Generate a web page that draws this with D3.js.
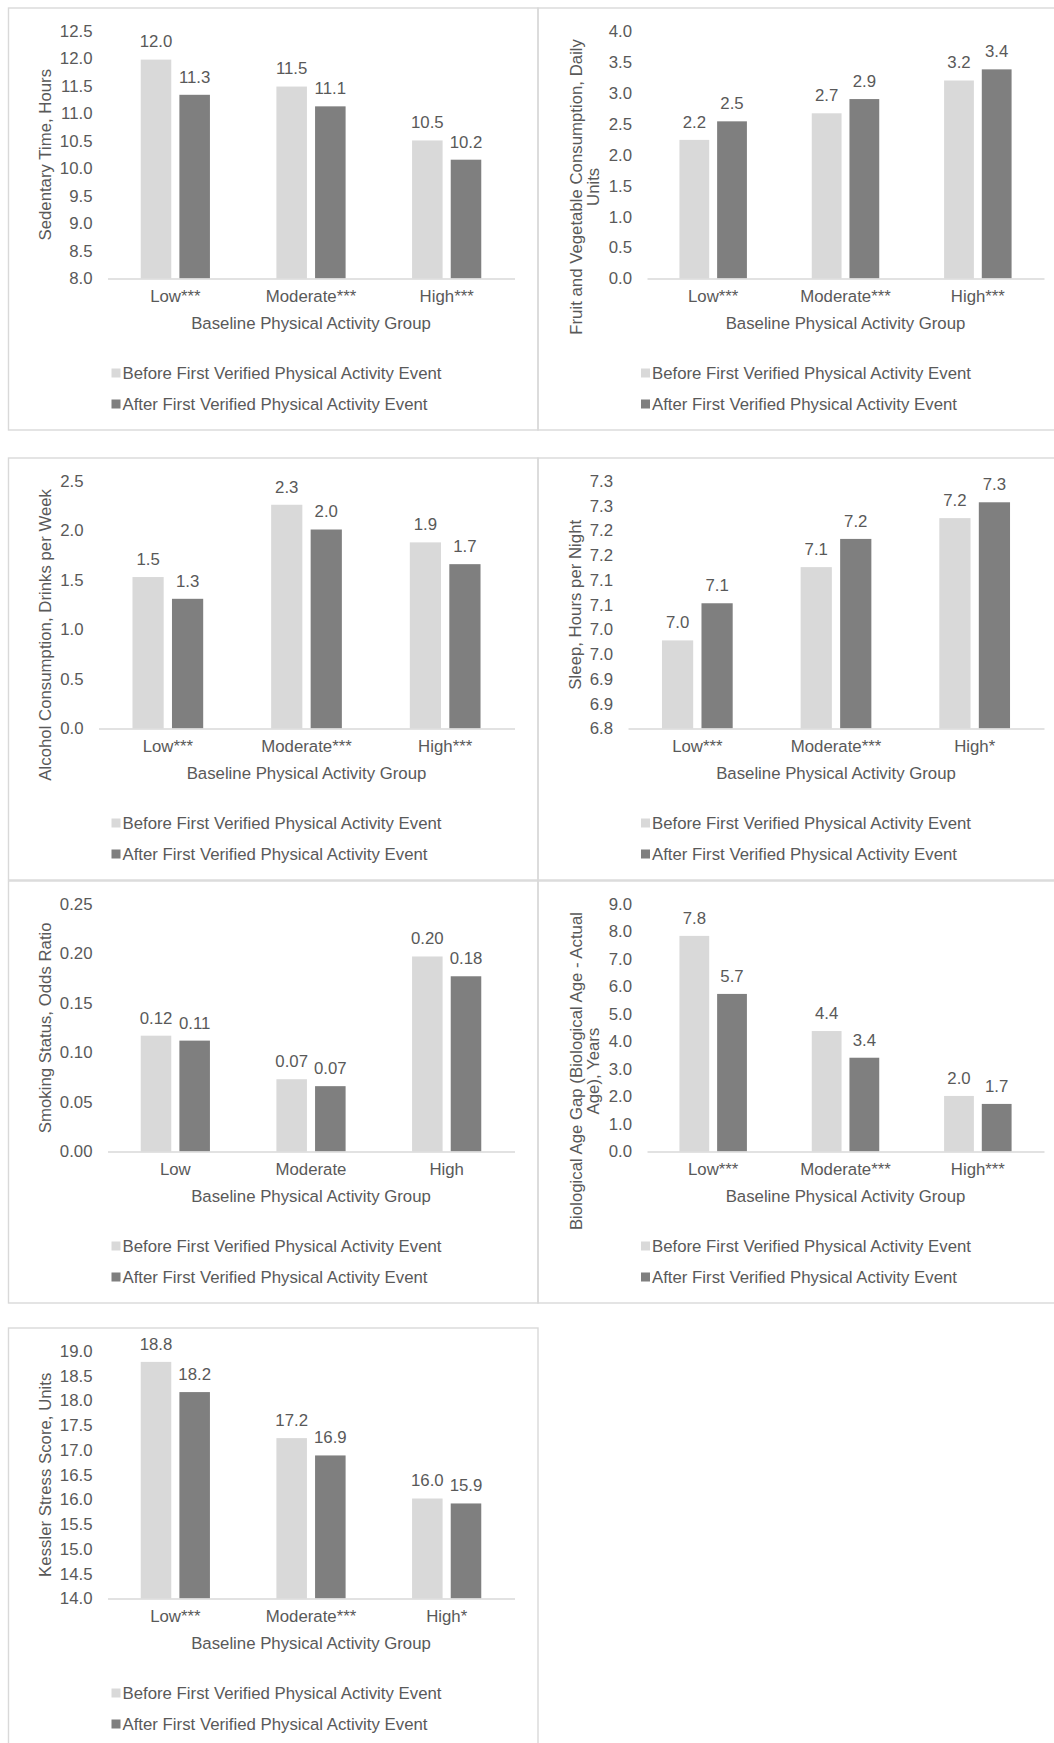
<!DOCTYPE html>
<html>
<head>
<meta charset="utf-8">
<script src="https://cdn.jsdelivr.net/npm/d3@7"></script>
<style>
  body { margin: 0; background: #fff; }
  svg { display: block; }
</style>
</head>
<body>
<svg id="chart" width="1054" height="1743"></svg>
<script>
// Shared texts
const legendLabels = ["Before First Verified Physical Activity Event", "After First Verified Physical Activity Event"];
const xAxisTitle = "Baseline Physical Activity Group";

// Sedentary time
const sedentaryCats = ["Low***", "Moderate***", "High***"];
const sedentaryBefore = [11.98, 11.49, 10.51];
const sedentaryAfter = [11.34, 11.13, 10.16];
const sedentaryTicks = [8.0, 8.5, 9.0, 9.5, 10.0, 10.5, 11.0, 11.5, 12.0, 12.5];
const sedentaryTickLabels = ["8.0", "8.5", "9.0", "9.5", "10.0", "10.5", "11.0", "11.5", "12.0", "12.5"];

// Fruit and vegetable
const fruitCats = ["Low***", "Moderate***", "High***"];
const fruitBefore = [2.24, 2.67, 3.20];
const fruitAfter = [2.54, 2.90, 3.38];
const fruitTicks = [0.0, 0.5, 1.0, 1.5, 2.0, 2.5, 3.0, 3.5, 4.0];
const fruitTickLabels = ["0.0", "0.5", "1.0", "1.5", "2.0", "2.5", "3.0", "3.5", "4.0"];

// Alcohol
const alcoholCats = ["Low***", "Moderate***", "High***"];
const alcoholBefore = [1.53, 2.26, 1.88];
const alcoholAfter = [1.31, 2.01, 1.66];
const alcoholTicks = [0.0, 0.5, 1.0, 1.5, 2.0, 2.5];
const alcoholTickLabels = ["0.0", "0.5", "1.0", "1.5", "2.0", "2.5"];

// Sleep
const sleepCats = ["Low***", "Moderate***", "High*"];
const sleepBefore = [6.978, 7.126, 7.225];
const sleepAfter = [7.053, 7.183, 7.257];
const sleepTicks = [6.80, 6.85, 6.90, 6.95, 7.00, 7.05, 7.10, 7.15, 7.20, 7.25, 7.30];
const sleepTickLabels = ["6.8", "6.9", "6.9", "7.0", "7.0", "7.1", "7.1", "7.2", "7.2", "7.3", "7.3"];

// Smoking
const smokingCats = ["Low", "Moderate", "High"];
const smokingBefore = [0.117, 0.073, 0.197];
const smokingAfter = [0.112, 0.066, 0.177];
const smokingTicks = [0.00, 0.05, 0.10, 0.15, 0.20, 0.25];
const smokingTickLabels = ["0.00", "0.05", "0.10", "0.15", "0.20", "0.25"];

// Biological age gap
const bioAgeCats = ["Low***", "Moderate***", "High***"];
const bioAgeBefore = [7.84, 4.38, 2.02];
const bioAgeAfter = [5.73, 3.41, 1.73];
const bioAgeTicks = [0, 1, 2, 3, 4, 5, 6, 7, 8, 9];
const bioAgeTickLabels = ["0.0", "1.0", "2.0", "3.0", "4.0", "5.0", "6.0", "7.0", "8.0", "9.0"];

// Kessler stress
const kesslerCats = ["Low***", "Moderate***", "High*"];
const kesslerBefore = [18.78, 17.24, 16.02];
const kesslerAfter = [18.17, 16.89, 15.92];
const kesslerTicks = [14.0, 14.5, 15.0, 15.5, 16.0, 16.5, 17.0, 17.5, 18.0, 18.5, 19.0];
const kesslerTickLabels = ["14.0", "14.5", "15.0", "15.5", "16.0", "16.5", "17.0", "17.5", "18.0", "18.5", "19.0"];

const FONT = "'Liberation Sans', Arial, sans-serif";
const FONT_SIZE = 16.8;
const TEXT_COLOR = "#595959";
const LINE_COLOR = "#d9d9d9";
const BAR_COLORS = ["#d9d9d9", "#7f7f7f"];

// Panels: data + where they sit on the page
const panels = [
  {x: 8.5, y: 8, w: 529.5, h: 422, plotLeft: 99, cats: sedentaryCats, before: sedentaryBefore, after: sedentaryAfter,
   ticks: sedentaryTicks, tickLabels: sedentaryTickLabels, fmt: ".1f", title: ["Sedentary Time, Hours"]},
  {x: 538, y: 8, w: 530, h: 422, plotLeft: 109, cats: fruitCats, before: fruitBefore, after: fruitAfter,
   ticks: fruitTicks, tickLabels: fruitTickLabels, fmt: ".1f", title: ["Fruit and Vegetable Consumption, Daily", "Units"]},
  {x: 8.5, y: 458, w: 529.5, h: 422, plotLeft: 90, cats: alcoholCats, before: alcoholBefore, after: alcoholAfter,
   ticks: alcoholTicks, tickLabels: alcoholTickLabels, fmt: ".1f", title: ["Alcohol Consumption, Drinks per Week"]},
  {x: 538, y: 458, w: 530, h: 422, plotLeft: 90, cats: sleepCats, before: sleepBefore, after: sleepAfter,
   ticks: sleepTicks, tickLabels: sleepTickLabels, fmt: ".1f", title: ["Sleep, Hours per Night"]},
  {x: 8.5, y: 881, w: 529.5, h: 422, plotLeft: 99, cats: smokingCats, before: smokingBefore, after: smokingAfter,
   ticks: smokingTicks, tickLabels: smokingTickLabels, fmt: ".2f", title: ["Smoking Status, Odds Ratio"]},
  {x: 538, y: 881, w: 530, h: 422, plotLeft: 109, cats: bioAgeCats, before: bioAgeBefore, after: bioAgeAfter,
   ticks: bioAgeTicks, tickLabels: bioAgeTickLabels, fmt: ".1f", title: ["Biological Age Gap (Biological Age - Actual", "Age), Years"]},
  {x: 8.5, y: 1328, w: 529.5, h: 422, plotLeft: 99, cats: kesslerCats, before: kesslerBefore, after: kesslerAfter,
   ticks: kesslerTicks, tickLabels: kesslerTickLabels, fmt: ".1f", title: ["Kessler Stress Score, Units"]}
];

const PLOT_TOP = 23;
const PLOT_BOTTOM = 270.5;
const PLOT_RIGHT = 506;

function styleText(sel) {
  return sel.attr("font-family", FONT)
            .attr("font-size", FONT_SIZE)
            .attr("fill", TEXT_COLOR);
}

function drawPanel(svg, p) {

  let g = svg.append("g")
             .attr("transform", `translate(${p.x},${p.y})`);

  // Chart border
  g.append("rect")
   .attr("x", 0)
   .attr("y", 0)
   .attr("width", p.w)
   .attr("height", p.h)
   .style("fill", "none")
   .style("stroke", LINE_COLOR)
   .style("stroke-width", "1.4px");

  let y = d3.scaleLinear()
            .domain([p.ticks[0], p.ticks[p.ticks.length - 1]])
            .range([PLOT_BOTTOM, PLOT_TOP]);

  let x0 = d3.scaleBand()
             .domain(p.cats)
             .range([p.plotLeft, PLOT_RIGHT]);

  let bw = x0.bandwidth();
  let x1 = d3.scaleBand()
             .domain([0, 1])
             .range([0.245 * bw, 0.755 * bw])
             .paddingInner(0.21);

  let rows = p.cats.map((c, i) => ({cat: c, vals: [p.before[i], p.after[i]]}));
  let fmt = d3.format(p.fmt);

  let groups = g.selectAll(".grp")
                .data(rows)
                .join("g")
                .attr("class", "grp")
                .attr("transform", d => `translate(${x0(d.cat)},0)`);

  // Bars
  groups.selectAll("rect")
        .data(d => d.vals.map((v, k) => ({k: k, v: v})))
        .join("rect")
        .attr("x", d => x1(d.k))
        .attr("y", d => y(d.v))
        .attr("width", x1.bandwidth())
        .attr("height", d => PLOT_BOTTOM - y(d.v))
        .style("fill", d => BAR_COLORS[d.k]);

  // Data labels
  groups.selectAll("text")
        .data(d => d.vals.map((v, k) => ({k: k, v: v})))
        .join("text")
        .attr("x", d => x1(d.k) + x1.bandwidth() / 2)
        .attr("y", d => y(d.v) - 18)
        .attr("dy", "0.35em")
        .attr("text-anchor", "middle")
        .text(d => fmt(d.v))
        .call(styleText);

  // Value axis (labels only)
  let yAxis = g.append("g")
               .attr("transform", `translate(${p.plotLeft},0)`)
               .call(d3.axisLeft(y)
                       .tickValues(p.ticks)
                       .tickFormat((d, i) => p.tickLabels[i])
                       .tickSize(0)
                       .tickPadding(15));
  yAxis.select(".domain").remove();
  yAxis.selectAll("text").call(styleText);

  // Category axis
  let xAxis = g.append("g")
               .attr("transform", `translate(0,${PLOT_BOTTOM})`)
               .call(d3.axisBottom(x0)
                       .tickSize(0)
                       .tickSizeOuter(0)
                       .tickPadding(12));
  xAxis.select(".domain")
       .style("stroke", LINE_COLOR)
       .style("stroke-width", "1.4px");
  xAxis.selectAll("text").call(styleText);

  // Category axis title
  g.append("text")
   .attr("x", (p.plotLeft + PLOT_RIGHT) / 2)
   .attr("y", 315)
   .attr("dy", "0.35em")
   .attr("text-anchor", "middle")
   .text(xAxisTitle)
   .call(styleText);

  // Value axis title, one or two lines, kept clear of the top edge
  let lineX = p.title.length > 1 ? [38, 55] : [37];
  let titleLines = p.title.map((t, i) =>
    g.append("text")
     .attr("text-anchor", "middle")
     .attr("dy", "0.35em")
     .text(t)
     .call(styleText)
  );
  let maxLen = d3.max(titleLines, t => t.node().getComputedTextLength());
  let centreY = Math.max((PLOT_TOP + PLOT_BOTTOM) / 2, 31 + maxLen / 2);
  titleLines.forEach((t, i) => {
    t.attr("transform", `translate(${lineX[i]},${centreY}) rotate(-90)`);
  });

  // Legend
  legendLabels.forEach((label, k) => {
    let ly = 365 + k * 31;
    g.append("rect")
     .attr("x", 103)
     .attr("y", ly - 4.5)
     .attr("width", 9)
     .attr("height", 9)
     .style("fill", BAR_COLORS[k]);
    g.append("text")
     .attr("x", 114)
     .attr("y", ly)
     .attr("dy", "0.35em")
     .text(label)
     .call(styleText);
  });
}

let svg = d3.select("#chart");
panels.forEach(p => drawPanel(svg, p));
</script>
</body>
</html>
